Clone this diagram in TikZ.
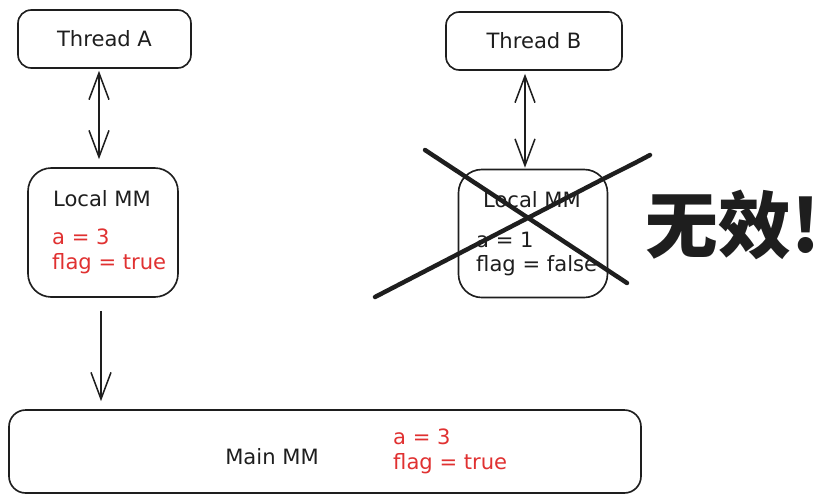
\documentclass[tikz,border=0pt]{standalone}
\usepackage{fontspec}
\setmainfont{DejaVu Sans}
\newfontfamily\cjk{Noto Sans CJK SC}
\usetikzlibrary{arrows.meta,positioning}
\definecolor{ink}{HTML}{1E1E1E}
\definecolor{warn}{HTML}{E03131}
\tikzset{
    box/.style={draw=ink,line width=1.4pt,rounded corners=4mm},
    txt/.style={text=ink,font=\fontsize{18}{21.3}\selectfont,inner sep=0pt},
    val/.style={font=\fontsize{18}{21.3}\selectfont,align=left,anchor=west,inner sep=0pt},
    tip/.tip={Straight Barb[length=8mm,width=6mm,line width=1.3pt]},
    bi/.style={tip-tip,draw=ink,line width=1.3pt},
    post/.style={-tip,draw=ink,line width=1.3pt},
    cross/.style={draw=ink,line width=3.8pt,line cap=round}
}

\begin{document}
\begin{tikzpicture}[x=0.3mm,y=-0.3mm]
    \useasboundingbox (0,0) rectangle (824,503);

    \node[box,minimum width=51.9mm,minimum height=17.4mm,txt] (threadA) at (104.5,39) {Thread A};
    \node[box,minimum width=52.8mm,minimum height=17.4mm,txt] (threadB) at (534,41) {Thread B};

    \node[box,rounded corners=7mm,minimum width=45mm,minimum height=38.7mm] (localA) at (103,232.5) {};
    \node[txt] (localAname) at (102,199) {Local MM};
    \node[val,text=warn] (localAval) at (52,251) {a = 3\\flag = true};

    \node[box,rounded corners=7mm,minimum width=44.7mm,minimum height=38.4mm] (localB) at (533,233.5) {};
    \node[txt] (localBname) at (532,200) {Local MM};
    \node[val,text=ink] (localBval) at (476,254) {a = 1\\flag = false};

    \node[box,rounded corners=5mm,minimum width=189.6mm,minimum height=24.9mm] (mainMM) at (325,451.5) {};
    \node[txt] (mainname) at (272,457) {Main MM};
    \node[val,text=warn] (mainval) at (393,451) {a = 3\\flag = true};

    \draw[bi,shorten <=0.6mm,shorten >=2.4mm] ([xshift=-1.65mm]threadA.south) -- ([xshift=-1.65mm]threadA.south |- localA.north);
    \draw[bi,shorten <=0.9mm,shorten >=0.3mm] ([xshift=-2.7mm]threadB.south) -- ([xshift=-2.7mm]threadB.south |- localB.north);
    \draw[post,shorten <=3.9mm,shorten >=2.4mm] ([xshift=-0.6mm]localA.south) -- ([xshift=-0.6mm]localA.south |- mainMM.north);

    % struck out
    \draw[cross] (425,150) -- (627,283);
    \draw[cross] (375,297) -- (605,178) .. controls (635,163) .. (650,155);

    \node[inner sep=0pt,text=ink,font=\cjk\bfseries\fontsize{62}{62}\selectfont] (invalid) at (733,225) {无效!};
\end{tikzpicture}
\end{document}
